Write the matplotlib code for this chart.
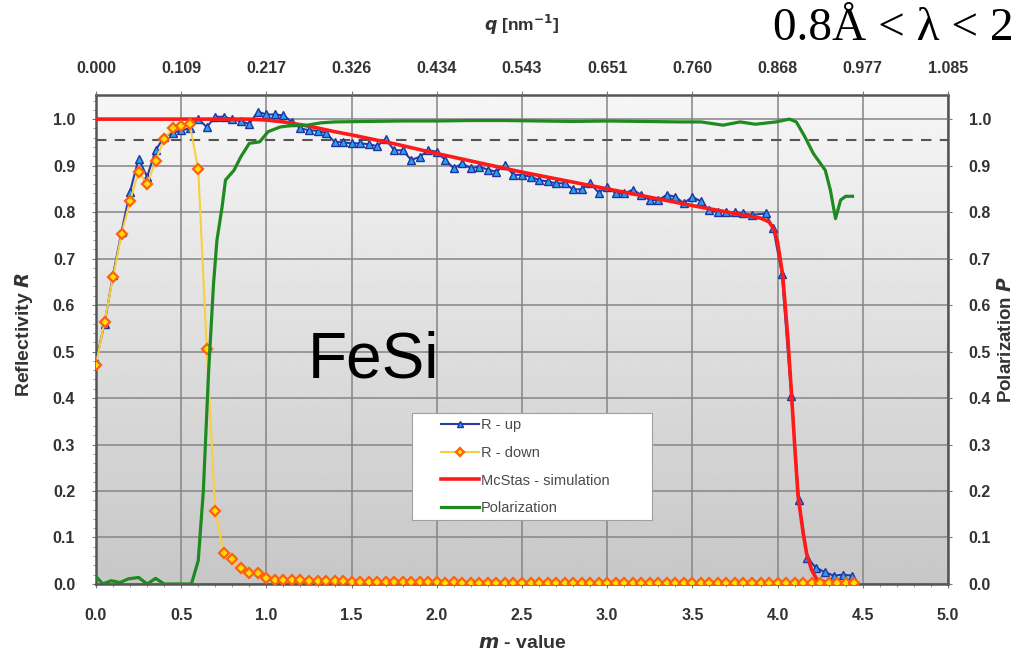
import numpy as np
import matplotlib
matplotlib.use("Agg")
import matplotlib.pyplot as plt
from matplotlib.ticker import MultipleLocator
from matplotlib.patches import Rectangle

# ---------------- data ----------------
m_up = [0.00, 0.05, 0.10, 0.15, 0.20, 0.25, 0.30, 0.35, 0.40, 0.45,
        0.50, 0.55, 0.60, 0.65, 0.70, 0.75, 0.80, 0.85, 0.90, 0.95,
        1.00, 1.05, 1.10, 1.15, 1.20, 1.25, 1.30, 1.35, 1.40, 1.45,
        1.50, 1.55, 1.60, 1.65, 1.70, 1.75, 1.80, 1.85, 1.90, 1.95,
        2.00, 2.05, 2.10, 2.15, 2.20, 2.25, 2.30, 2.35, 2.40, 2.45,
        2.50, 2.55, 2.60, 2.65, 2.70, 2.75, 2.80, 2.85, 2.90, 2.95,
        3.00, 3.05, 3.10, 3.15, 3.20, 3.25, 3.30, 3.35, 3.40, 3.45,
        3.50, 3.55, 3.60, 3.65, 3.70, 3.75, 3.80, 3.85, 3.93, 3.975,
        4.025, 4.08, 4.125, 4.175, 4.225, 4.28, 4.33, 4.385, 4.435]
r_up = [0.480, 0.560, 0.665, 0.758, 0.844, 0.915, 0.876, 0.933, 0.962, 0.970,
        0.976, 0.980, 1.000, 0.983, 1.005, 1.005, 1.000, 0.995, 0.990, 1.016,
        1.010, 1.010, 1.008, 0.994, 0.980, 0.976, 0.975, 0.970, 0.951, 0.950,
        0.948, 0.948, 0.946, 0.942, 0.957, 0.933, 0.933, 0.912, 0.919, 0.933,
        0.930, 0.912, 0.894, 0.905, 0.894, 0.898, 0.891, 0.887, 0.901, 0.880,
        0.880, 0.876, 0.869, 0.866, 0.862, 0.862, 0.849, 0.849, 0.862, 0.842,
        0.855, 0.840, 0.840, 0.848, 0.837, 0.826, 0.826, 0.837, 0.833, 0.819,
        0.833, 0.823, 0.804, 0.800, 0.800, 0.800, 0.797, 0.794, 0.797, 0.765,
        0.667, 0.405, 0.180, 0.056, 0.035, 0.025, 0.018, 0.020, 0.018]

m_down = [0.00, 0.05, 0.10, 0.15, 0.20, 0.25, 0.30, 0.35, 0.40, 0.45,
          0.50, 0.55, 0.60, 0.65, 0.70, 0.75, 0.80, 0.85, 0.90, 0.95,
          1.00, 1.05, 1.10, 1.15, 1.20, 1.25, 1.30, 1.35, 1.40, 1.45,
          1.50, 1.55, 1.60, 1.65, 1.70, 1.75, 1.80, 1.85, 1.90, 1.95,
          2.00, 2.05, 2.10, 2.15, 2.20, 2.25, 2.30, 2.35, 2.40, 2.45,
          2.50, 2.55, 2.60, 2.65, 2.70, 2.75, 2.80, 2.85, 2.90, 2.95,
          3.00, 3.05, 3.10, 3.15, 3.20, 3.25, 3.30, 3.35, 3.40, 3.45,
          3.50, 3.55, 3.60, 3.65, 3.70, 3.75, 3.80, 3.85, 3.90, 3.95,
          4.00, 4.05, 4.10, 4.15, 4.20, 4.25, 4.30, 4.35, 4.40, 4.45]
r_down = [0.472, 0.564, 0.660, 0.753, 0.824, 0.887, 0.860, 0.910, 0.957, 0.980,
          0.985, 0.989, 0.892, 0.505, 0.157, 0.067, 0.053, 0.034, 0.023, 0.024,
          0.012, 0.009, 0.008, 0.009, 0.008, 0.007, 0.007, 0.007, 0.006, 0.006,
          0.005, 0.005, 0.005, 0.004, 0.005, 0.004, 0.004, 0.004, 0.004, 0.004,
          0.004, 0.003, 0.004, 0.003, 0.003, 0.003, 0.003, 0.003, 0.003, 0.003,
          0.003, 0.003, 0.003, 0.003, 0.003, 0.003, 0.003, 0.003, 0.003, 0.003,
          0.003, 0.003, 0.003, 0.003, 0.003, 0.003, 0.003, 0.003, 0.003, 0.003,
          0.003, 0.003, 0.003, 0.003, 0.003, 0.003, 0.003, 0.003, 0.003, 0.003,
          0.003, 0.003, 0.003, 0.003, 0.002, 0.002, 0.002, 0.002, 0.002, 0.002]

m_sim = [0.00, 0.90, 1.00, 1.10, 1.20, 1.30, 1.40, 1.50, 1.75, 2.00, 2.25,
         2.50, 2.75, 3.00, 3.25, 3.50, 3.75, 3.90, 3.95, 3.98, 4.00, 4.03,
         4.06, 4.08, 4.10, 4.12, 4.15, 4.17, 4.20, 4.23, 4.30, 4.45]
r_sim = [1.000, 1.000, 0.998, 0.994, 0.988, 0.981, 0.973, 0.966, 0.947, 0.926, 0.906,
         0.886, 0.868, 0.850, 0.832, 0.814, 0.797, 0.787, 0.779, 0.762, 0.735, 0.665,
         0.530, 0.420, 0.300, 0.190, 0.110, 0.066, 0.030, 0.010, 0.002, 0.000]

m_pol = [0.00, 0.04, 0.09, 0.14, 0.19, 0.25, 0.30, 0.35, 0.40, 0.56, 0.60,
         0.63, 0.66, 0.69, 0.71, 0.74, 0.76, 0.81, 0.85, 0.90, 0.96, 1.01,
         1.08, 1.16, 1.24, 1.32, 1.40, 1.60, 1.80, 2.00, 2.20, 2.40, 2.60,
         2.80, 3.00, 3.20, 3.43, 3.55, 3.68, 3.78, 3.87, 3.99, 4.07, 4.11,
         4.16, 4.21, 4.28, 4.31, 4.34, 4.37, 4.40, 4.44]
p_pol = [0.016, 0.000, 0.007, 0.003, 0.011, 0.014, 0.000, 0.012, 0.000, 0.000, 0.050,
         0.200, 0.450, 0.647, 0.740, 0.811, 0.869, 0.890, 0.919, 0.948, 0.951, 0.973,
         0.983, 0.987, 0.987, 0.992, 0.994, 0.995, 0.996, 0.996, 0.997, 0.997, 0.996,
         0.995, 0.996, 0.995, 0.994, 0.994, 0.987, 0.994, 0.989, 0.994, 1.000, 0.994,
         0.962, 0.926, 0.890, 0.847, 0.786, 0.826, 0.834, 0.834]

threshold = 0.955
m_ticks = [0.0, 0.5, 1.0, 1.5, 2.0, 2.5, 3.0, 3.5, 4.0, 4.5, 5.0]
q_labels = ["0.000", "0.109", "0.217", "0.326", "0.434", "0.543",
            "0.651", "0.760", "0.868", "0.977", "1.085"]
y_ticks = [0.0, 0.1, 0.2, 0.3, 0.4, 0.5, 0.6, 0.7, 0.8, 0.9, 1.0]

# ---------------- figure ----------------
plt.rcParams['font.family'] = ['Liberation Sans', 'DejaVu Sans']
fig = plt.figure(figsize=(10.19, 6.58), dpi=100)
ax = fig.add_axes([0.0942, 0.1125, 0.8361, 0.7432])
ax.set_xlim(0, 5)
ax.set_ylim(0, 1.052)

TXT = '#333333'

# gradient background
grad = np.linspace(0.78, 0.965, 256).reshape(-1, 1)
ax.imshow(grad, extent=[0, 1, 0, 1], transform=ax.transAxes, cmap='gray',
          vmin=0, vmax=1, aspect='auto', origin='lower', zorder=0)

ax.grid(True, which='major', color='#858585', lw=1.1, zorder=1)
ax.axhline(threshold, color='#555555', lw=1.5, ls=(0, (5, 4)), zorder=2)

l_up, = ax.plot(m_up, r_up, color='#2b3ca8', lw=1.5, marker='^', ms=5.8,
                mfc='#22a2f2', mec='#2233a0', mew=1.0, zorder=3, label='R - up')
l_sim, = ax.plot(m_sim, r_sim, color='#ff1a1a', lw=2.6, zorder=4,
                 label='McStas - simulation')
l_down, = ax.plot(m_down, r_down, color='#f7cf3f', lw=1.5, marker='D', ms=5.0,
                  mfc='#ffe000', mec='#ff6010', mew=1.6, zorder=5, label='R - down')
l_pol, = ax.plot(m_pol, p_pol, color='#1f8a1f', lw=2.3, zorder=6,
                 label='Polarization')

# ticks
ax.set_xticks(m_ticks)
ax.set_yticks(y_ticks)
ax.xaxis.set_minor_locator(MultipleLocator(0.1))
ax.yaxis.set_minor_locator(MultipleLocator(0.02))
ax.tick_params(which='major', length=3, direction='out', color='#777777',
               labelsize=11.5)
ax.tick_params(axis='y', which='major', pad=12)
ax.tick_params(axis='x', which='major', pad=14)
ax.tick_params(which='minor', length=2.5, direction='out', color='#888888',
               top=True, right=True)
for lab in ax.get_xticklabels() + ax.get_yticklabels():
    lab.set_fontweight('bold')
    lab.set_color(TXT)
for sp in ax.spines.values():
    sp.set_color('#555555')
    sp.set_linewidth(1.8)

ax.set_xlabel(r'$\mathbfit{m}$ - value', fontsize=14, fontweight='bold',
              color=TXT)
ax.xaxis.set_label_coords(0.5, -0.104)
ax.set_ylabel(r'Reflectivity $\mathbfit{R}$', fontsize=14, fontweight='bold',
              color=TXT)
ax.yaxis.set_label_coords(-0.072, 0.51)

# right axis
axr = ax.twinx()
axr.set_ylim(ax.get_ylim())
axr.set_yticks(y_ticks)
axr.tick_params(which='major', length=3, color='#777777', labelsize=11.5, pad=12)
for lab in axr.get_yticklabels():
    lab.set_fontweight('bold')
    lab.set_color(TXT)
axr.set_ylabel(r'Polarization $\mathbfit{P}$', fontsize=13.5, fontweight='bold',
               color=TXT)
axr.yaxis.set_label_coords(1.0575, 0.5)
for sp in axr.spines.values():
    sp.set_visible(False)

# top axis (q)
axt = ax.twiny()
axt.set_xlim(ax.get_xlim())
axt.set_xticks(m_ticks)
axt.set_xticklabels(q_labels)
axt.tick_params(which='major', length=3, color='#777777', labelsize=11.5, pad=11)
for lab in axt.get_xticklabels():
    lab.set_fontweight('bold')
    lab.set_color(TXT)
axt.set_xlabel(r'$\mathbfit{q}$ [nm$^{\mathbf{-1}}$]', fontsize=12.5,
               fontweight='bold', color=TXT)
axt.xaxis.set_label_coords(0.5, 1.13)
for sp in axt.spines.values():
    sp.set_visible(False)

# legend (white box + frameless legend inside)
ax.add_patch(Rectangle((0.371, 0.131), 0.282, 0.219, transform=ax.transAxes,
                       facecolor='white', edgecolor='#a0a0a0', lw=0.8,
                       zorder=9))
leg = ax.legend(handles=[l_up, l_down, l_sim, l_pol],
                loc='center left', bbox_to_anchor=(0.405, 0.24),
                fontsize=10.5, frameon=False, handlelength=2.6,
                borderpad=0, labelspacing=0.95, handletextpad=0.15,
                borderaxespad=0)
leg.set_zorder(10)
for t in leg.get_texts():
    t.set_color('#4a4a4a')
for h in leg.legend_handles:
    h.set_markersize(4)

# annotations
ax.text(0.249, 0.423, 'FeSi', transform=ax.transAxes, fontsize=46,
        family='Liberation Sans', color='black', zorder=11)
fig.text(0.7586, 0.939, '0.8Å < λ < 2', fontsize=34, family='Liberation Serif',
         color='black')

fig.savefig('out.png', dpi=100)
